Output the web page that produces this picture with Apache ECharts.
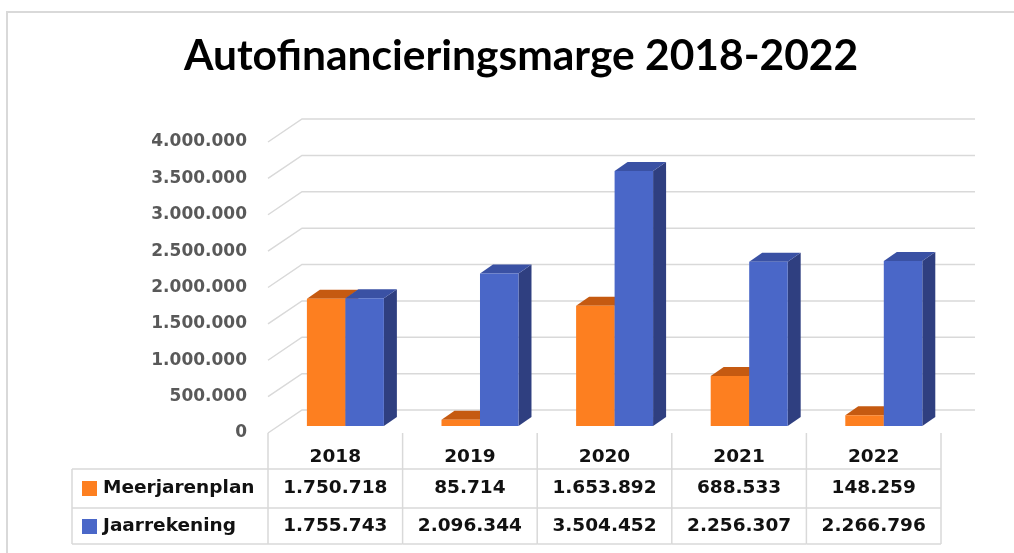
<!DOCTYPE html>
<html>
<head>
<meta charset="utf-8">
<script src="https://cdn.jsdelivr.net/npm/echarts@6/dist/echarts.min.js"></script>
<style>
  html, body { margin: 0; padding: 0; background: #fff; }
  #chart { width: 1014px; height: 553px; }
</style>
</head>
<body>
<div id="chart"></div>
<script>
const years = ['2018', '2019', '2020', '2021', '2022']
const meerjarenplan = [1750718, 85714, 1653892, 688533, 148259]
const jaarrekening = [1755743, 2096344, 3504452, 2256307, 2266796]
const yTicks = [0, 500000, 1000000, 1500000, 2000000, 2500000, 3000000, 3500000, 4000000]
const seriesNames = ['Meerjarenplan', 'Jaarrekening']

// front, top, side colours of the 3d bars
const barColors = [
  ['#FD7F20', '#C55A11', '#B04F10'],
  ['#4A67C8', '#3A51A4', '#2F3F80']
]
const gridColor = '#d9d9d9'
const cellFont = 'bold 18.5px "DejaVu Sans"'

const fmt = v => String(Math.round(v)).replace(/\B(?=(\d{3})+(?!\d))/g, '.')

const chart = echarts.init(document.getElementById('chart'))

// walls: front-left diagonal + back grid line for each tick
const renderWall = (params, api) => {
  const v = api.value(1)
  const band = api.size([1, 0])[0]
  const p = api.coord([0, v])
  const xl = p[0] - band / 2
  const xr = api.coord([years.length - 1, v])[0] + band / 2
  return {
    type: 'polyline',
    shape: { points: [[xl, p[1]], [xl + 34, p[1] - 23], [xr + 34, p[1] - 23]] },
    style: { stroke: gridColor, lineWidth: 1.5, fill: null }
  }
}

const makeBarRenderer = (s) => (params, api) => {
  const i = api.value(0)
  const v = api.value(1)
  const band = api.size([1, 0])[0]
  const base = api.coord([i, 0])
  const top = api.coord([i, v])
  const barW = band * 0.286
  const x0 = base[0] + band * 0.075 - (s === 0 ? barW : 0)
  const x1 = x0 + barW
  const yb = base[1] - 7
  const yt = top[1] - 7
  const dx = 13, dy = -9
  const c = barColors[s]
  return {
    type: 'group',
    children: [
      { type: 'polygon', shape: { points: [[x1, yt], [x1 + dx, yt + dy], [x1 + dx, yb + dy], [x1, yb]] }, style: { fill: c[2] } },
      { type: 'polygon', shape: { points: [[x0, yt], [x1, yt], [x1 + dx, yt + dy], [x0 + dx, yt + dy]] }, style: { fill: c[1] } },
      { type: 'rect', shape: { x: x0, y: yt, width: barW, height: yb - yt }, style: { fill: c[0] } }
    ]
  }
}

// data table under the axis
const renderTable = (params, api) => {
  const i = api.value(0)
  const band = api.size([1, 0])[0]
  const c = api.coord([i, 0])
  const y0 = c[1]
  const xl = c[0] - band / 2
  const xr = c[0] + band / 2
  const line = (x1, y1, x2, y2) => ({
    type: 'line', shape: { x1, y1, x2, y2 }, style: { stroke: gridColor, lineWidth: 1.5 }
  })
  const text = (t, x, y, align) => ({
    type: 'text',
    style: { text: t, x, y, align: align || 'center', verticalAlign: 'middle', font: cellFont, fill: '#111' }
  })
  const children = [
    line(xr, y0, xr, y0 + 111),
    line(xl, y0 + 36, xr, y0 + 36),
    line(xl, y0 + 75, xr, y0 + 75),
    line(xl, y0 + 111, xr, y0 + 111),
    text(fmt(api.value(1)), c[0], y0 + 55),
    text(fmt(api.value(2)), c[0], y0 + 93)
  ]
  if (i === 0) {
    const hl = xl - 196
    children.push(
      line(xl, y0, xl, y0 + 111),
      line(hl, y0 + 36, xl, y0 + 36),
      line(hl, y0 + 75, xl, y0 + 75),
      line(hl, y0 + 111, xl, y0 + 111),
      line(hl, y0 + 36, hl, y0 + 111),
      { type: 'rect', shape: { x: hl + 10, y: y0 + 48, width: 15, height: 15 }, style: { fill: barColors[0][0] } },
      { type: 'rect', shape: { x: hl + 10, y: y0 + 86, width: 15, height: 15 }, style: { fill: barColors[1][0] } },
      text(seriesNames[0], hl + 31, y0 + 55, 'left'),
      text(seriesNames[1], hl + 31, y0 + 93, 'left')
    )
  }
  return { type: 'group', children }
}

const option = {
  animation: false,
  title: {
    text: 'Autofinancieringsmarge 2018-2022',
    left: 516,
    textAlign: 'center',
    top: 30,
    textStyle: { fontFamily: 'Lato', fontWeight: 'bold', fontSize: 42.5, color: '#000' }
  },
  graphic: [
    {
      type: 'rect',
      shape: { x: 7, y: 12, width: 1100, height: 600 },
      style: { fill: null, stroke: gridColor, lineWidth: 2 },
      silent: true
    }
  ],
  grid: { left: 268, right: 73, top: 142, bottom: 120 },
  xAxis: {
    type: 'category',
    data: years,
    axisLine: { show: false },
    axisTick: { show: false },
    axisLabel: {
      margin: 24,
      verticalAlign: 'middle',
      fontFamily: 'DejaVu Sans',
      fontWeight: 'bold',
      fontSize: 18.5,
      color: '#111'
    }
  },
  yAxis: {
    type: 'value',
    min: 0,
    max: 4000000,
    interval: 500000,
    axisLine: { show: false },
    axisTick: { show: false },
    splitLine: { show: false },
    axisLabel: {
      margin: 21,
      formatter: v => fmt(v),
      fontFamily: 'DejaVu Sans',
      fontWeight: 'bold',
      fontSize: 17,
      color: '#595959'
    }
  },
  series: [
    {
      type: 'custom',
      renderItem: renderWall,
      data: yTicks.map(v => [0, v]),
      silent: true,
      z: 1
    },
    {
      name: seriesNames[0],
      type: 'custom',
      renderItem: makeBarRenderer(0),
      data: meerjarenplan.map((v, i) => [i, v]),
      z: 2
    },
    {
      name: seriesNames[1],
      type: 'custom',
      renderItem: makeBarRenderer(1),
      data: jaarrekening.map((v, i) => [i, v]),
      z: 3
    },
    {
      type: 'custom',
      renderItem: renderTable,
      data: years.map((y, i) => [i, meerjarenplan[i], jaarrekening[i]]),
      silent: true,
      z: 1
    }
  ]
}

chart.setOption(option)

window.addEventListener('resize', () => {
  chart.resize()
})
</script>
</body>
</html>
